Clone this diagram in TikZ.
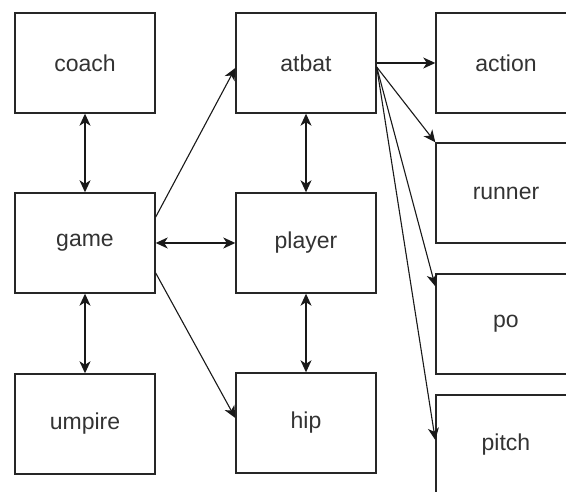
\documentclass[tikz,border=0pt]{standalone}
\usepackage{fontspec}
\setmainfont{Liberation Sans}
\usetikzlibrary{arrows.meta}
\begin{document}
\begin{tikzpicture}[x=1pt,y=-1pt,
  box/.style={draw=black!85,line width=1.4pt,minimum width=140pt,minimum height=100pt,inner sep=0pt,
    font=\fontsize{23}{26}\selectfont,text=black!80,fill=white},
  tip/.style={Stealth[length=12pt,width=11pt,inset=3.5pt]},
  conn/.style={line width=1.1pt,draw=black!90,-{Stealth[length=12pt,width=11pt,inset=3.5pt]}},
  biconn/.style={line width=1.3pt,draw=black!90,{Stealth[length=12pt,width=11pt,inset=3.5pt]}-{Stealth[length=12pt,width=11pt,inset=3.5pt]}}]
\useasboundingbox (0,0) rectangle (566,492);
\clip (0,0) rectangle (566,492);
\fill[white] (0,0) rectangle (566,492);
\node[box] (coach)  at (85,63)  {coach};
\node[box] (game)   at (85,243) {game};
\node[box] (umpire) at (85,424) {umpire};
\node[box] (atbat)  at (306,63) {atbat};
\node[box] (player) at (306,243) {player};
\node[box] (hip)    at (306,423) {hip};
\node[box] (action) at (506,63) {action};
\node[box] (runner) at (506,193) {runner};
\node[box] (po)     at (506,324) {po};
\node[box] (pitch)  at (506,445) {pitch};
\draw[biconn] (coach) -- (game);
\draw[biconn] (game) -- (umpire);
\draw[biconn] (atbat) -- (player);
\draw[biconn] (player) -- (hip);
\draw[biconn] (game) -- (player);
\draw[conn] ([yshift=26pt]game.east) -- ([yshift=-5pt]atbat.west);
\draw[conn] ([yshift=-30pt]game.east) -- ([yshift=5pt]hip.west);
\draw[conn] (atbat.east) -- (action.west);
\draw[conn] ([yshift=-4pt]atbat.east) -- (runner.north west);
\draw[conn] ([yshift=-4pt]atbat.east) -- ([yshift=-13pt]po.north west);
\draw[conn] ([yshift=-4pt]atbat.east) -- ([yshift=5pt]pitch.west);
\end{tikzpicture}
\end{document}
